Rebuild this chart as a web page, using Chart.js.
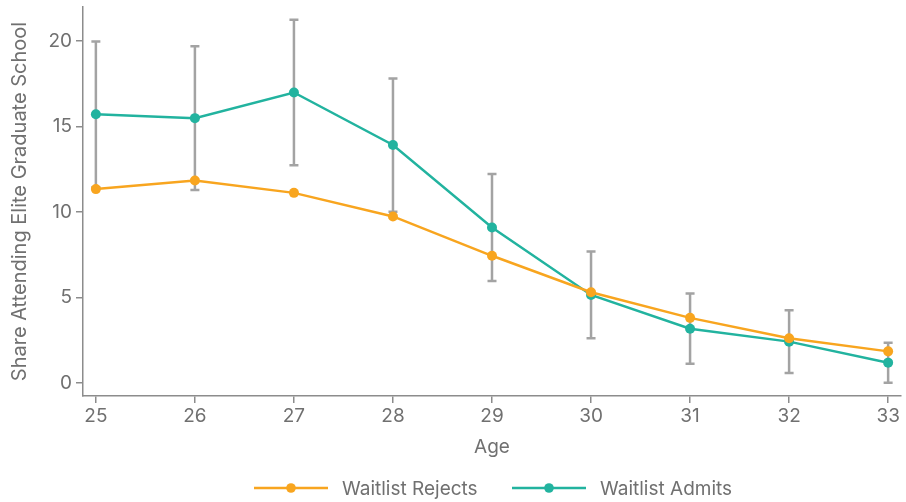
<!DOCTYPE html>
<html>
<head>
<meta charset="utf-8">
<script src="https://cdn.jsdelivr.net/npm/chart.js@4/dist/chart.umd.min.js"></script>
<style>
  html, body { margin: 0; padding: 0; background: #fff; }
  #wrap { width: 906px; height: 502px; }
</style>
</head>
<body>
<div id="wrap"><canvas id="chart" width="906" height="502"></canvas></div>
<script>
const ages = [25, 26, 27, 28, 29, 30, 31, 32, 33];
const rejects = [11.35, 11.85, 11.13, 9.75, 7.45, 5.32, 3.82, 2.63, 1.86];
const admits = [15.73, 15.5, 17.0, 13.93, 9.1, 5.16, 3.18, 2.43, 1.2];
const admitsLow = [11.46, 11.3, 12.75, 10.03, 5.98, 2.63, 1.13, 0.6, 0.03];
const admitsHigh = [19.98, 19.7, 21.25, 17.82, 12.24, 7.7, 5.24, 4.27, 2.37];
const yTicks = [0, 5, 10, 15, 20];

const orange = '#f8a51f';
const teal = '#22b39f';
const axisGray = '#8c8c8c';
const textGray = '#707070';
const fontFamily = "Inter, 'Liberation Sans', sans-serif";
const fontSize = 19;

// gray confidence bars on the admits series
const errorBars = {
    id: 'errorBars',
    beforeDatasetsDraw(chart) {
        const { ctx, scales: { x, y } } = chart;
        ctx.save();
        ctx.strokeStyle = '#a3a3a3';
        ctx.lineWidth = 2.5;
        ages.forEach((age, i) => {
            const px = x.getPixelForValue(age);
            const top = y.getPixelForValue(admitsHigh[i]);
            const bot = y.getPixelForValue(admitsLow[i]);
            ctx.beginPath();
            ctx.moveTo(px, top); ctx.lineTo(px, bot);
            ctx.moveTo(px - 4.5, top); ctx.lineTo(px + 4.5, top);
            ctx.moveTo(px - 4.5, bot); ctx.lineTo(px + 4.5, bot);
            ctx.stroke();
        });
        ctx.restore();
    }
};

// legend: line with a dot in the middle, then label
const lineLegend = {
    id: 'lineLegend',
    afterDraw(chart) {
        const { ctx } = chart;
        const items = [
            { x: 254, color: orange, label: chart.data.datasets[0].label },
            { x: 512, color: teal, label: chart.data.datasets[1].label }
        ];
        const yy = 488;
        ctx.save();
        items.forEach(it => {
            ctx.strokeStyle = it.color;
            ctx.lineWidth = 2.5;
            ctx.beginPath();
            ctx.moveTo(it.x, yy); ctx.lineTo(it.x + 74, yy);
            ctx.stroke();
            ctx.fillStyle = it.color;
            ctx.beginPath();
            ctx.arc(it.x + 37, yy, 4.8, 0, Math.PI * 2);
            ctx.fill();
            ctx.fillStyle = textGray;
            ctx.font = fontSize + 'px ' + fontFamily;
            ctx.textBaseline = 'middle';
            ctx.fillText(it.label, it.x + 88, yy + 1);
        });
        ctx.restore();
    }
};

new Chart(document.getElementById('chart'), {
    type: 'line',
    data: {
        datasets: [
            {
                label: 'Waitlist Rejects',
                data: ages.map((a, i) => ({ x: a, y: rejects[i] })),
                borderColor: orange,
                backgroundColor: orange,
                borderWidth: 2.5,
                pointRadius: 5,
                pointBorderWidth: 0,
                tension: 0
            },
            {
                label: 'Waitlist Admits',
                data: ages.map((a, i) => ({ x: a, y: admits[i] })),
                borderColor: teal,
                backgroundColor: teal,
                borderWidth: 2.5,
                pointRadius: 5,
                pointBorderWidth: 0,
                tension: 0
            }
        ]
    },
    options: {
        responsive: false,
        animation: false,
        layout: { padding: { left: 0, right: 1, top: 7, bottom: 0 } },
        plugins: {
            legend: { display: false },
            tooltip: { enabled: false }
        },
        scales: {
            x: {
                type: 'linear',
                min: 24.87,
                max: 33.13,
                afterFit: s => { s.height = 106; s.paddingLeft = 0; s.paddingRight = 0; },
                grid: { drawOnChartArea: false, drawTicks: true, tickLength: 7, color: axisGray, lineWidth: 1.5 },
                border: { color: axisGray, width: 1.5 },
                ticks: {
                    stepSize: 1,
                    includeBounds: false,
                    padding: 2,
                    color: textGray,
                    font: { family: fontFamily, size: fontSize },
                    maxRotation: 0
                },
                title: {
                    display: true,
                    text: 'Age',
                    color: textGray,
                    font: { family: fontFamily, size: fontSize },
                    padding: { top: 0, bottom: 43 }
                }
            },
            y: {
                type: 'linear',
                min: -0.75,
                max: 22,
                afterFit: s => { s.width = 83; s.paddingTop = 0; s.paddingBottom = 0; },
                afterBuildTicks: s => { s.ticks = yTicks.map(v => ({ value: v })); },
                grid: { drawOnChartArea: false, drawTicks: true, tickLength: 7, color: axisGray, lineWidth: 1.5 },
                border: { color: axisGray, width: 1.5 },
                ticks: {
                    padding: 4,
                    color: textGray,
                    font: { family: fontFamily, size: fontSize }
                },
                title: {
                    display: true,
                    text: 'Share Attending Elite Graduate School',
                    color: textGray,
                    font: { family: fontFamily, size: 20 },
                    padding: { top: 8, bottom: 0 }
                }
            }
        }
    },
    plugins: [errorBars, lineLegend]
});
</script>
</body>
</html>
